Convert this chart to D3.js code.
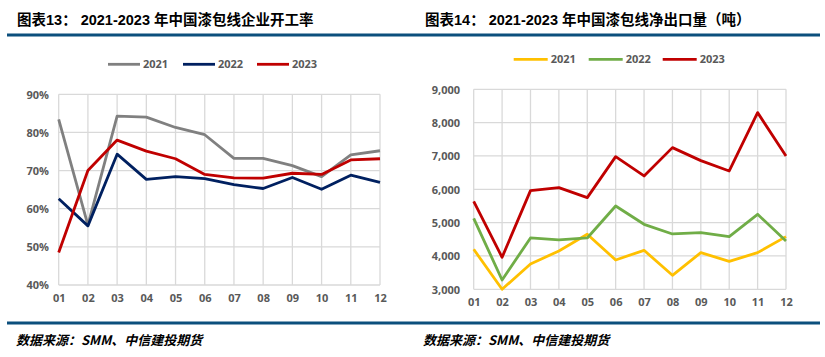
<!DOCTYPE html>
<html><head><meta charset="utf-8">
<script src="https://cdn.jsdelivr.net/npm/d3@7"></script>
<style>
html,body{margin:0;padding:0;background:#fff;}
svg{display:block;}
</style></head>
<body>
<svg id="c" width="825" height="357"></svg>
<script>
const months = ["01","02","03","04","05","06","07","08","09","10","11","12"];
const seriesNames = ["2021","2022","2023"];

// Chart 13: operating rate (%)
const rate2021 = [83.4,55.7,84.3,84.0,81.3,79.4,73.2,73.2,71.3,68.4,74.1,75.2];
const rate2022 = [62.6,55.5,74.3,67.7,68.4,67.9,66.3,65.3,68.2,65.1,68.8,66.9];
const rate2023 = [48.5,70.0,78.0,75.1,73.1,69.0,68.1,68.0,69.3,69.0,72.8,73.1];
const rateTicks = [40,50,60,70,80,90];

// Chart 14: net exports (tons)
const exp2021 = [4200,3000,3760,4150,4650,3880,4170,3420,4100,3840,4100,4580];
const exp2022 = [5130,3280,4540,4480,4540,5500,4950,4660,4700,4580,5250,4450];
const exp2023 = [5640,3960,5960,6050,5750,6980,6400,7250,6860,6550,8300,7000];
const expTicks = [3000,4000,5000,6000,7000,8000,9000];

const title13 = "图表13： 2021-2023 年中国漆包线企业开工率";
const title14 = "图表14： 2021-2023 年中国漆包线净出口量（吨）";
const sourceText = "数据来源：SMM、中信建投期货";

const svg = d3.select("#c");
const BLUE = "#0b4f7d";
const TICK = "#595959";
const GRID = "#d9d9d9";

// header / footer
svg.append("text").attr("x",17).attr("y",25).text(title13)
  .attr("font-family","'Liberation Sans','Noto Sans CJK SC',sans-serif").attr("font-weight","bold").attr("font-size",14.5).attr("fill","#000");
svg.append("text").attr("x",425).attr("y",25).text(title14)
  .attr("font-family","'Liberation Sans','Noto Sans CJK SC',sans-serif").attr("font-weight","bold").attr("font-size",14.5).attr("fill","#000");
svg.append("rect").attr("x",7).attr("y",33.5).attr("width",813).attr("height",3).attr("fill",BLUE);
svg.append("rect").attr("x",7).attr("y",321.5).attr("width",813).attr("height",3).attr("fill",BLUE);
[16,423].forEach(x=>{
  svg.append("text").attr("x",x).attr("y",345).text(sourceText)
    .attr("font-family","'Noto Sans CJK SC',sans-serif").attr("font-weight","bold")
    .attr("font-style","italic").attr("font-size",13).attr("fill","#000");
});

function drawChart(cfg){
  const g = svg.append("g");
  const x = d3.scalePoint().domain(months).range([cfg.x0,cfg.x1]).padding(0);
  const y = d3.scaleLinear().domain(cfg.domain).range([cfg.y1,cfg.y0]);
  // horizontal grid
  g.append("g").selectAll("line").data(cfg.ticks).join("line")
    .attr("x1",cfg.x0).attr("x2",cfg.x1)
    .attr("y1",d=>y(d)).attr("y2",d=>y(d))
    .attr("stroke",GRID).attr("stroke-width",1.3);
  // vertical grid
  g.append("g").selectAll("line").data(months).join("line")
    .attr("x1",d=>x(d)).attr("x2",d=>x(d))
    .attr("y1",cfg.y0).attr("y2",cfg.y1)
    .attr("stroke",GRID).attr("stroke-width",1.3);
  // y axis
  const ya = d3.axisLeft(y).tickValues(cfg.ticks).tickFormat(cfg.fmt).tickSize(0).tickPadding(0);
  const yg = g.append("g").attr("transform",`translate(${cfg.ylabX},0)`).call(ya);
  yg.select(".domain").remove();
  yg.selectAll("text").attr("font-family","'Open Sans',sans-serif").attr("font-weight","bold")
    .attr("font-size",11).attr("fill",TICK).attr("dy","0.35em");
  // x axis
  const xa = d3.axisBottom(x).tickSize(0).tickPadding(0);
  const xg = g.append("g").attr("transform",`translate(0,${cfg.xlabY})`).call(xa);
  xg.select(".domain").remove();
  xg.selectAll("text").attr("font-family","'Open Sans',sans-serif").attr("font-weight","bold")
    .attr("font-size",11).attr("fill",TICK).attr("dy","0");
  // lines
  const line = d3.line().x((d,i)=>x(months[i])).y(d=>y(d));
  cfg.series.forEach((s,k)=>{
    g.append("path").datum(s).attr("d",line).attr("fill","none")
      .attr("stroke",cfg.colors[k]).attr("stroke-width",2.8)
      .attr("stroke-linejoin","round").attr("stroke-linecap","butt");
  });
  // legend
  seriesNames.forEach((n,k)=>{
    const lx = cfg.legX[k];
    g.append("line").attr("x1",lx).attr("x2",lx+cfg.legLen).attr("y1",cfg.legY).attr("y2",cfg.legY)
      .attr("stroke",cfg.colors[k]).attr("stroke-width",2.8);
    g.append("text").attr("x",lx+cfg.legLen+3).attr("y",cfg.legY).attr("dy","0.35em").text(n)
      .attr("font-family","'Open Sans',sans-serif").attr("font-weight","bold")
      .attr("font-size",11).attr("fill",TICK);
  });
}

drawChart({
  x0:58.7, x1:380, y0:94.3, y1:285, domain:[40,90], ticks:rateTicks,
  fmt:d=>d+"%", ylabX:49, xlabY:302,
  series:[rate2021,rate2022,rate2023],
  colors:["#808080","#002060","#C00000"],
  legX:[108,183,257], legLen:32, legY:64.3
});
drawChart({
  x0:473.7, x1:786, y0:89.3, y1:289.3, domain:[3000,9000], ticks:expTicks,
  fmt:d3.format(","), ylabX:460, xlabY:306,
  series:[exp2021,exp2022,exp2023],
  colors:["#FFC000","#70AD47","#C00000"],
  legX:[513.7,588.7,662.7], legLen:34, legY:59.3
});
</script>
</body></html>
